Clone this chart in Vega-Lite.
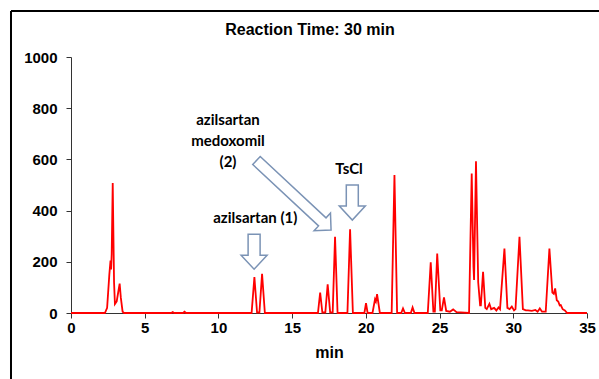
{
  "$schema": "https://vega.github.io/schema/vega-lite/v6.json",
  "width": 516,
  "height": 256,
  "autosize": {"type": "none"},
  "padding": {"left": 71, "top": 57, "right": 12, "bottom": 66},
  "background": "white",
  "config": {
    "view": {"stroke": null},
    "axis": {"grid": false, "domainColor": "#333333", "tickColor": "#333333", "labelFont": "Liberation Sans", "labelFontSize": 15, "labelFontWeight": "bold", "labelColor": "black", "titleFont": "Liberation Sans", "titleFontSize": 16, "titleFontWeight": "bold", "titleColor": "black"}
  },
  "layer": [
    {
      "data": {"values": [{}]},
      "mark": {"type": "rule", "color": "black", "strokeWidth": 2, "clip": false},
      "encoding": {
        "x": {"datum": -4.07, "type": "quantitative"},
        "y": {"datum": 1180, "type": "quantitative"},
        "y2": {"datum": -300}
      }
    },
    {
      "data": {"values": [{}]},
      "mark": {"type": "rule", "color": "black", "strokeWidth": 2, "clip": false},
      "encoding": {
        "x": {"datum": -4.07, "type": "quantitative"},
        "x2": {"datum": 37},
        "y": {"datum": 1180, "type": "quantitative"}
      }
    },
    {
      "data": {"values": [
        {"t": 0, "v": 0}, {"t": 2.3, "v": 0}, {"t": 2.45, "v": 20}, {"t": 2.6, "v": 150}, {"t": 2.68, "v": 205}, {"t": 2.72, "v": 170}, {"t": 2.76, "v": 230}, {"t": 2.83, "v": 508}, {"t": 2.92, "v": 120}, {"t": 2.98, "v": 35}, {"t": 3.1, "v": 45}, {"t": 3.2, "v": 80}, {"t": 3.3, "v": 115}, {"t": 3.38, "v": 60}, {"t": 3.5, "v": 5}, {"t": 3.6, "v": 0},
        {"t": 6.8, "v": 0}, {"t": 6.9, "v": 4}, {"t": 7.0, "v": 0}, {"t": 7.6, "v": 0}, {"t": 7.7, "v": 5}, {"t": 7.8, "v": 0},
        {"t": 12.25, "v": 0}, {"t": 12.44, "v": 140}, {"t": 12.62, "v": 2}, {"t": 12.78, "v": 2}, {"t": 12.96, "v": 153}, {"t": 13.15, "v": 0},
        {"t": 16.75, "v": 0}, {"t": 16.9, "v": 80}, {"t": 17.05, "v": 2}, {"t": 17.25, "v": 2}, {"t": 17.41, "v": 112}, {"t": 17.58, "v": 2}, {"t": 17.75, "v": 2}, {"t": 17.91, "v": 298}, {"t": 18.08, "v": 0},
        {"t": 18.75, "v": 0}, {"t": 18.93, "v": 327}, {"t": 19.12, "v": 0},
        {"t": 19.9, "v": 0}, {"t": 20.01, "v": 38}, {"t": 20.12, "v": 0}, {"t": 20.45, "v": 0}, {"t": 20.62, "v": 53}, {"t": 20.68, "v": 45}, {"t": 20.76, "v": 74}, {"t": 20.95, "v": 0},
        {"t": 21.75, "v": 0}, {"t": 21.94, "v": 539}, {"t": 22.12, "v": 0}, {"t": 22.4, "v": 0}, {"t": 22.52, "v": 18}, {"t": 22.65, "v": 0}, {"t": 23.05, "v": 0}, {"t": 23.17, "v": 22}, {"t": 23.3, "v": 0},
        {"t": 24.2, "v": 0}, {"t": 24.4, "v": 198}, {"t": 24.58, "v": 5}, {"t": 24.68, "v": 5}, {"t": 24.84, "v": 232}, {"t": 25.05, "v": 10}, {"t": 25.15, "v": 10}, {"t": 25.3, "v": 61}, {"t": 25.45, "v": 8}, {"t": 25.7, "v": 5}, {"t": 25.92, "v": 14}, {"t": 26.15, "v": 3}, {"t": 27.0, "v": 0},
        {"t": 27.18, "v": 545}, {"t": 27.3, "v": 180}, {"t": 27.34, "v": 129}, {"t": 27.47, "v": 593}, {"t": 27.62, "v": 120}, {"t": 27.75, "v": 30}, {"t": 27.8, "v": 30}, {"t": 27.95, "v": 161}, {"t": 28.1, "v": 20}, {"t": 28.2, "v": 15}, {"t": 28.38, "v": 36}, {"t": 28.5, "v": 15}, {"t": 28.7, "v": 20}, {"t": 28.85, "v": 10}, {"t": 29.0, "v": 22}, {"t": 29.1, "v": 15},
        {"t": 29.4, "v": 252}, {"t": 29.6, "v": 20}, {"t": 29.75, "v": 15}, {"t": 29.9, "v": 25}, {"t": 30.05, "v": 10}, {"t": 30.15, "v": 15}, {"t": 30.42, "v": 298}, {"t": 30.65, "v": 15}, {"t": 30.85, "v": 10}, {"t": 31.0, "v": 10}, {"t": 31.26, "v": 8}, {"t": 31.5, "v": 12}, {"t": 31.65, "v": 5}, {"t": 31.8, "v": 18}, {"t": 31.95, "v": 5}, {"t": 32.2, "v": 5},
        {"t": 32.45, "v": 252}, {"t": 32.65, "v": 80}, {"t": 32.75, "v": 75}, {"t": 32.84, "v": 96}, {"t": 32.95, "v": 50}, {"t": 33.05, "v": 45}, {"t": 33.15, "v": 30}, {"t": 33.22, "v": 31}, {"t": 33.35, "v": 15}, {"t": 33.5, "v": 10}, {"t": 33.65, "v": 0}, {"t": 35, "v": 0}
      ]},
      "mark": {"type": "line", "color": "#ff0000", "strokeWidth": 1.8},
      "encoding": {
        "x": {"field": "t", "type": "quantitative", "scale": {"domain": [0, 35], "nice": false, "zero": true}, "axis": {"title": "min", "values": [0, 5, 10, 15, 20, 25, 30, 35], "tickSize": 5, "labelPadding": 2, "titlePadding": 9, "labelFlush": false}},
        "y": {"field": "v", "type": "quantitative", "scale": {"domain": [0, 1000], "nice": false}, "axis": {"title": null, "values": [0, 200, 400, 600, 800, 1000], "format": "d", "tickSize": 5, "labelPadding": 9, "labelFlush": false}}
      }
    },
    {
      "data": {"values": [{}]},
      "mark": {"type": "point", "shape": "M -6 -35 L 6 -35 L 6 -14 L 13 -14 L 0 0 L -13 -14 L -6 -14 Z", "size": 4, "filled": true, "fill": "white", "stroke": "#7b93b5", "strokeWidth": 1.5, "opacity": 1},
      "encoding": {"x": {"datum": 12.42, "type": "quantitative"}, "y": {"datum": 171, "type": "quantitative"}}
    },
    {
      "data": {"values": [{}]},
      "mark": {"type": "point", "shape": "M -6 -35 L 6 -35 L 6 -14 L 13 -14 L 0 0 L -13 -14 L -6 -14 Z", "size": 4, "filled": true, "fill": "white", "stroke": "#7b93b5", "strokeWidth": 1.5, "opacity": 1},
      "encoding": {"x": {"datum": 19.08, "type": "quantitative"}, "y": {"datum": 363, "type": "quantitative"}}
    },
    {
      "data": {"values": [{}]},
      "mark": {"type": "point", "shape": "M -102 -5.5 L -12 -5.5 L -12 -12 L 0 0 L -12 12 L -12 5.5 L -102 5.5 Z", "size": 4, "angle": 43, "filled": true, "fill": "white", "stroke": "#7b93b5", "strokeWidth": 1.5, "opacity": 1},
      "encoding": {"x": {"datum": 17.64, "type": "quantitative"}, "y": {"datum": 324, "type": "quantitative"}}
    },
    {
      "data": {"values": [{}]},
      "mark": {"type": "text", "text": "Reaction Time: 30 min", "font": "Liberation Sans", "fontSize": 16, "fontWeight": "bold", "align": "center", "baseline": "middle", "color": "black", "clip": false},
      "encoding": {"x": {"datum": 16.21, "type": "quantitative"}, "y": {"datum": 1105, "type": "quantitative"}}
    },
    {
      "data": {"values": [{}]},
      "mark": {"type": "text", "text": "azilsartan (1)", "font": "Lato", "fontSize": 15, "fontWeight": "bold", "align": "center", "baseline": "middle", "color": "black"},
      "encoding": {"x": {"datum": 12.5, "type": "quantitative"}, "y": {"datum": 371, "type": "quantitative"}}
    },
    {
      "data": {"values": [{}]},
      "mark": {"type": "text", "text": "TsCl", "font": "Lato", "fontSize": 15, "fontWeight": "bold", "align": "center", "baseline": "middle", "color": "black"},
      "encoding": {"x": {"datum": 18.86, "type": "quantitative"}, "y": {"datum": 562, "type": "quantitative"}}
    },
    {
      "data": {"values": [{}]},
      "mark": {"type": "text", "text": ["azilsartan", "medoxomil", "(2)"], "lineHeight": 21, "font": "Lato", "fontSize": 15, "fontWeight": "bold", "align": "center", "baseline": "middle", "color": "black"},
      "encoding": {"x": {"datum": 10.65, "type": "quantitative"}, "y": {"datum": 754, "type": "quantitative"}}
    }
  ]
}
